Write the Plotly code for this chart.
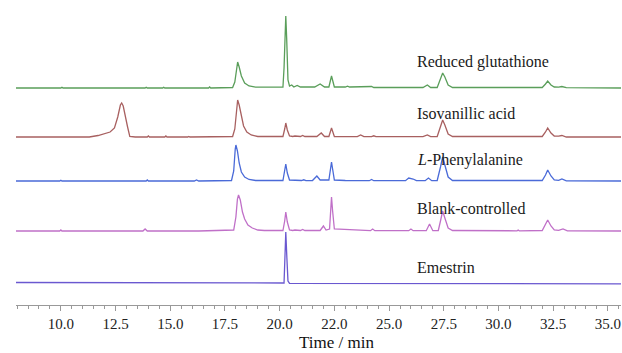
import plotly.graph_objects as go

# ---- data: chromatogram vertices (time in min, intensity in arbitrary units) ----
names = ["Reduced glutathione", "Isovanillic acid", "L-Phenylalanine", "Blank-controlled", "Emestrin"]

gsh_t = [7.95, 10.0, 10.05, 10.1, 13.85, 13.9, 13.95, 14.65, 14.7, 14.75, 16.75, 16.8, 16.85,
         17.85, 17.95, 18.02, 18.08, 18.15, 18.25, 18.4, 18.6, 18.9,
         20.15, 20.2, 20.25, 20.28, 20.32, 20.38, 20.45, 20.55, 20.65, 20.8, 20.95, 21.2, 21.3,
         21.6, 21.85, 22.05, 22.25, 22.37, 22.5, 23.0, 23.1, 23.2, 24.1, 24.2, 24.3,
         26.55, 26.75, 26.9, 27.2, 27.35, 27.45, 27.55, 27.7, 27.9, 30.85, 30.9, 30.95,
         32.0, 32.15, 32.25, 32.4, 32.55, 32.75, 32.9, 33.1, 35.6]
gsh_v = [0, 0, 0.8, 0, 0, 0.8, 0, 0, 0.8, 0, 0, 1, 0,
         0.5, 6, 20, 26, 21, 12, 5, 2, 0.8,
         0.8, 20, 66, 72, 50, 8, 2, 3, 1, 2.5, 1, 1.5, 1,
         1, 4, 1, 1, 12, 1, 1, 1.8, 1, 1, 1.5, 0.5,
         0.5, 3, 0.5, 0.5, 9, 15, 11, 3, 0.5, 0.3, 0.8, 0.3,
         0.5, 4, 7, 3, 1, 0.8, 1.5, 0.3, 0]

iva_t = [7.95, 11.3, 11.7, 12.0, 12.25, 12.45, 12.6, 12.72, 12.78, 12.85, 12.95, 13.05, 13.15, 13.4,
         13.95, 14.0, 14.05, 14.75, 14.8, 14.85, 15.8, 15.85, 15.9,
         17.85, 17.95, 18.03, 18.08, 18.15, 18.25, 18.35, 18.5, 18.7, 19.0,
         20.15, 20.23, 20.28, 20.35, 20.45, 20.6, 20.7, 20.95, 21.05, 21.15,
         21.7, 21.9, 22.05, 22.25, 22.37, 22.5, 23.55, 23.7, 23.85, 24.2, 24.3, 24.4,
         26.55, 26.75, 26.9, 27.2, 27.35, 27.45, 27.55, 27.7, 27.9,
         32.0, 32.15, 32.25, 32.4, 32.55, 32.75, 32.9, 33.1, 35.6]
iva_v = [0, 0, 1.5, 3, 5, 9, 20, 32, 34, 31, 22, 10, 0.5, 0,
         0, 1, 0, 0, 1, 0, 0, 0.6, 0,
         0.5, 8, 31, 37, 32, 20, 11, 5, 2, 0.5,
         0.5, 8, 14, 7, 1, 0.5, 1, 0.5, 1.5, 0.5,
         0.5, 4, 0.5, 0.5, 9, 0.5, 0.3, 2, 0.3, 0.3, 1.2, 0.3,
         0.3, 2, 0.3, 0.5, 10, 17, 12, 3, 0.5,
         0.5, 5, 9, 4, 1, 0.8, 1.5, 0, 0]

phe_t = [7.95, 9.95, 10.0, 10.05, 13.9, 13.95, 14.0, 16.1, 16.2, 16.3,
         17.8, 17.9, 17.97, 18.0, 18.07, 18.15, 18.25, 18.4, 18.6, 18.9,
         20.15, 20.23, 20.28, 20.35, 20.45, 21.0, 21.1, 21.2,
         21.5, 21.7, 21.85, 22.25, 22.33, 22.37, 22.42, 22.5, 23.0, 24.1, 24.2, 24.3,
         25.75, 25.9, 26.1, 26.25, 26.65, 26.8, 26.95, 27.2, 27.35, 27.45, 27.55, 27.7, 27.9,
         30.85, 30.9, 30.95, 32.0, 32.15, 32.25, 32.4, 32.55, 32.75, 32.9, 33.1, 35.6]
phe_v = [0, 0, 0.8, 0, 0, 1, 0, 0, 1, 0,
         0.5, 10, 32, 36, 30, 18, 9, 4, 1.5, 0.5,
         0.5, 10, 17, 8, 1, 0.5, 1.2, 0.3,
         0.5, 5, 1, 1, 12, 19, 12, 1, 0.5, 0.3, 1.5, 0.3,
         0.3, 3, 2, 0.3, 0.3, 3, 0.3, 0.5, 14, 24, 16, 4, 0.5,
         0.2, 0.8, 0.2, 0.5, 6, 11, 5, 1, 0.6, 2, 0.2, 0]

blk_t = [7.95, 9.95, 10.0, 10.05, 13.75, 13.85, 13.95, 14.95, 15.0, 15.05, 16.2, 16.25, 16.3,
         17.9, 18.0, 18.07, 18.12, 18.2, 18.3, 18.4, 18.55, 18.75, 19.0, 19.3,
         20.15, 20.23, 20.28, 20.35, 20.45, 20.6, 20.7, 20.95, 21.05, 21.15,
         21.85, 22.0, 22.12, 22.28, 22.33, 22.37, 22.42, 22.5,
         24.15, 24.25, 24.35, 25.9, 26.0, 26.1, 26.7, 26.85, 27.0,
         27.25, 27.35, 27.45, 27.55, 27.7, 27.9, 30.85, 30.9, 30.95,
         32.0, 32.15, 32.25, 32.4, 32.55, 32.75, 32.95, 33.15, 35.6]
blk_v = [0, 0, 1, 0, 0, 2, 0, 0, 0.6, 0, 0, 0.6, 0,
         1, 14, 32, 36, 31, 19, 12, 6, 3, 1, 0.5,
         0.5, 10, 19, 9, 1, 0.5, 1, 0.5, 1.5, 0.5,
         0.5, 5, 1, 2, 20, 34, 20, 2,
         0.3, 2, 0.3, 0.3, 2, 0.3, 0.3, 7, 0.3,
         0.5, 10, 20, 13, 3, 0.5, 0.2, 1, 0.2,
         0.5, 6, 11, 5, 1, 0.6, 2, 0.2, 0]

eme_t = [7.95, 20.1, 20.2, 20.24, 20.28, 20.33, 20.38, 20.45, 35.6]
eme_v = [0.5, 0, 0, 25, 51, 25, 2, -0.3, -0.8]

# tick labels (as printed on the original axis)
tick_vals = [10.0, 12.5, 15.0, 17.5, 20.0, 22.5, 25.0, 27.5, 30.0, 32.5, 35.0]
tick_text = ["10.0", "12.5", "15.0", "17.5", "20.0", "22.0", "25.0", "27.5", "30.0", "32.5", "35.0"]

# ---- layout / style ----
series = [(gsh_t, gsh_v), (iva_t, iva_v), (phe_t, phe_v), (blk_t, blk_v), (eme_t, eme_v)]
offsets = [217, 168, 124, 74, 22]
label_y = [243, 192, 145, 97, 38]
colors = ["#5a9e5a", "#a86060", "#4a6ad8", "#c070c8", "#6a58d0"]
label_text = ["Reduced glutathione", "Isovanillic acid", "<i>L</i>-Phenylalanine",
              "Blank-controlled", "Emestrin"]

fig = go.Figure()
for (t, v), off, col, nm in zip(series, offsets, colors, names):
    fig.add_trace(go.Scatter(x=t, y=[val + off for val in v], mode="lines", name=nm,
                             line=dict(color=col, width=1.3), hoverinfo="skip"))

for txt, ly in zip(label_text, label_y):
    fig.add_annotation(x=26.2, y=ly, xref="x", yref="y", text=txt, showarrow=False,
                       xanchor="left", yanchor="middle",
                       font=dict(family="Liberation Serif", size=16, color="#1a1a1a"))

# axis title as annotation for exact placement
fig.add_annotation(x=(336 - 16) / 605, y=-(342 - 305) / 295, xref="paper", yref="paper",
                   text="Time / min", showarrow=False, xanchor="center", yanchor="middle",
                   font=dict(family="Liberation Serif", size=17, color="#111"))

fig.update_layout(
    width=622, height=353,
    margin=dict(l=16, r=1, t=10, b=48, autoexpand=False),
    plot_bgcolor="white", paper_bgcolor="white",
    showlegend=False,
    font=dict(family="Liberation Serif", color="#222"),
)
fig.update_xaxes(range=[7.95, 35.6], showgrid=False, zeroline=False, automargin=False,
                 showline=True, linecolor="#999", linewidth=1,
                 ticks="outside", ticklen=5, tickcolor="#999", tickwidth=1,
                 tickvals=tick_vals, ticktext=tick_text,
                 tickfont=dict(family="Liberation Serif", size=15, color="#222"),
                 minor=dict(dtick=0.5, tick0=0, ticks="outside", ticklen=3, tickcolor="#999"))
fig.update_yaxes(range=[0, 295], visible=False)

fig.write_html("out.html", config={"displayModeBar": False, "staticPlot": True})

# remove the browser's default page margin so the figure sits at the window origin
with open("out.html", "r", encoding="utf-8") as f:
    html = f.read()
html = html.replace("<head>", "<head><style>html,body{margin:0;padding:0;overflow:hidden;}</style>", 1)
with open("out.html", "w", encoding="utf-8") as f:
    f.write(html)
